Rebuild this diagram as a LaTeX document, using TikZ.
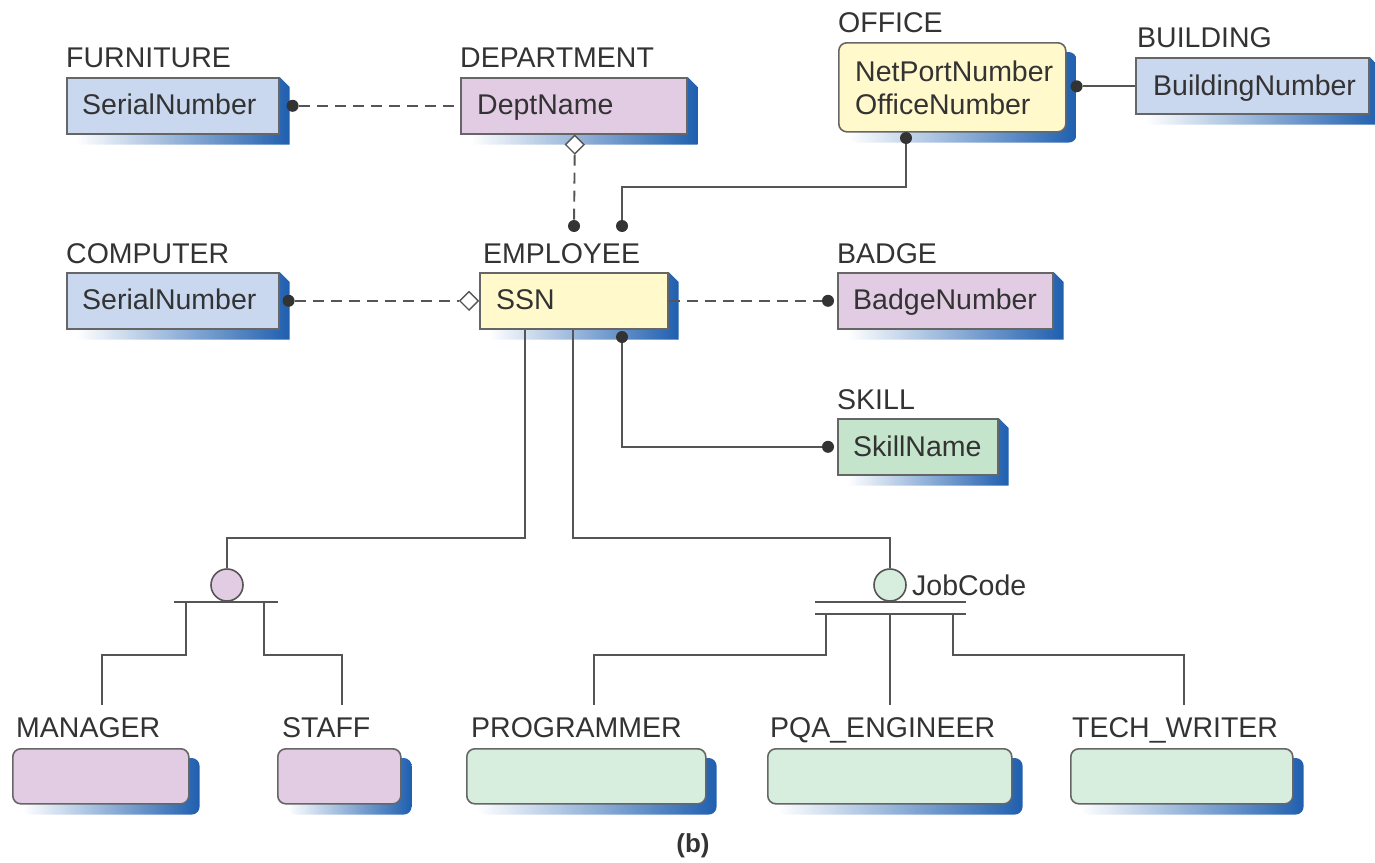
\documentclass[tikz,border=0pt]{standalone}
\usepackage{fontspec}
\setmainfont{Liberation Sans}
\usetikzlibrary{shapes.geometric,calc}
\pgfdeclarelayer{bg}\pgfsetlayers{bg,main}
\definecolor{bluef}{HTML}{C9D7EF}
\definecolor{pinkf}{HTML}{E2CCE3}
\definecolor{yellowf}{HTML}{FFF9CC}
\definecolor{skillf}{HTML}{C4E5CC}
\definecolor{greenf}{HTML}{D7EDDE}
\definecolor{shblue}{HTML}{1F5FAF}
\definecolor{boxline}{HTML}{666666}
\definecolor{linec}{HTML}{555555}
\definecolor{txtc}{HTML}{333333}
\definecolor{dotc}{HTML}{333333}
\tikzset{
  ent/.style={draw=boxline, line width=1.6pt, anchor=north west, inner sep=0pt},
  rent/.style={ent, rounded corners=8pt},
  txt/.style={anchor=base west, inner sep=0pt, text=txtc, font=\fontsize{28.5}{32}\selectfont},
  dot/.style={circle, fill=dotc, inner sep=0pt, minimum size=12pt},
  dia/.style={diamond, draw=linec, fill=white, line width=1.4pt, inner sep=0pt, minimum width=19pt, minimum height=19pt},
  conn/.style={draw=linec, line width=1.9pt},
  dconn/.style={conn, dash pattern=on 11pt off 7pt},
  subc/.style={circle, draw=linec, line width=1.6pt, inner sep=0pt, minimum size=32pt}
}
\newcommand\shrect[1]{%
  \shade[left color=white, middle color=shblue!60, right color=shblue]
    ($(#1.south west)+(10,10)$) -- ($(#1.south east)+(10,10)$) --
    ($(#1.north east)+(10,10)$) -- (#1.north east) -- ($(#1.north west)+(10,0)$) -- cycle;}
\newcommand\shround[1]{%
  \shade[left color=white, middle color=shblue!60, right color=shblue, rounded corners=8pt]
    ($(#1.south west)+(10,10)$) rectangle ($(#1.north east)+(10,10)$);}
\begin{document}
\begin{tikzpicture}[x=1pt,y=-1pt]
\useasboundingbox (0,0) rectangle (1375,862);
% ---------- entity boxes ----------
\node[ent, fill=bluef, minimum width=212pt, minimum height=56pt] (furn) at (66,77) {};
\node[ent, fill=pinkf, minimum width=226pt, minimum height=56pt] (dept) at (460,77) {};
\node[rent, fill=yellowf, minimum width=227pt, minimum height=89pt] (office) at (838,42) {};
\node[ent, fill=bluef, minimum width=233pt, minimum height=56pt] (bldg) at (1135,57) {};
\node[ent, fill=bluef, minimum width=212pt, minimum height=56pt] (comp) at (66,272) {};
\node[ent, fill=yellowf, minimum width=188pt, minimum height=56pt] (emp) at (479,272) {};
\node[ent, fill=pinkf, minimum width=215pt, minimum height=56pt] (badge) at (837,272) {};
\node[ent, fill=skillf, minimum width=160pt, minimum height=56pt] (skill) at (837,418) {};
\node[rent, fill=pinkf, minimum width=176pt, minimum height=55pt] (mgr) at (12,748) {};
\node[rent, fill=pinkf, minimum width=123pt, minimum height=55pt] (staff) at (277,748) {};
\node[rent, fill=greenf, minimum width=239pt, minimum height=55pt] (prog) at (466,748) {};
\node[rent, fill=greenf, minimum width=244pt, minimum height=55pt] (pqa) at (767,748) {};
\node[rent, fill=greenf, minimum width=222pt, minimum height=55pt] (tech) at (1070,748) {};
\begin{pgfonlayer}{bg}
  \shrect{furn}\shrect{dept}\shround{office}\shrect{bldg}
  \shrect{comp}\shrect{emp}\shrect{badge}\shrect{skill}
  \shround{mgr}\shround{staff}\shround{prog}\shround{pqa}\shround{tech}
\end{pgfonlayer}
% ---------- labels and attributes ----------
\node[txt] (furnL) at (66,67) {FURNITURE};
\node[txt] (furnA) at (82,114) {SerialNumber};
\node[txt] (deptL) at (460,67) {DEPARTMENT};
\node[txt] (deptA) at (477,114) {DeptName};
\node[txt] (officeL) at (838,32) {OFFICE};
\node[txt] (officeA) at (855,81) {NetPortNumber};
\node[txt] (officeB) at (855,114) {OfficeNumber};
\node[txt] (bldgL) at (1137,47) {BUILDING};
\node[txt] (bldgA) at (1153,95) {BuildingNumber};
\node[txt] (compL) at (66,263) {COMPUTER};
\node[txt] (compA) at (82,309) {SerialNumber};
\node[txt] (empL) at (483,263) {EMPLOYEE};
\node[txt] (empA) at (496,309) {SSN};
\node[txt] (badgeL) at (837,263) {BADGE};
\node[txt] (badgeA) at (853,309) {BadgeNumber};
\node[txt] (skillL) at (837,409) {SKILL};
\node[txt] (skillA) at (853,456) {SkillName};
\node[txt] (mgrL) at (16,737) {MANAGER};
\node[txt] (staffL) at (282,737) {STAFF};
\node[txt] (progL) at (471,737) {PROGRAMMER};
\node[txt] (pqaL) at (770,737) {PQA\_ENGINEER};
\node[txt] (techL) at (1072,737) {TECH\_WRITER};
\node[anchor=base, inner sep=0pt, text=txtc, font=\fontsize{26}{30}\selectfont\bfseries] (cap) at (693,852) {(b)};
% ---------- relationships ----------
\node[dot] (dFurn) at ($(furn.east)+(13,0)$) {};
\draw[dconn] (dFurn) -- (dept.west);
\node[dot] (dEmpD) at (574,226) {};
\node[dia] (diaDept) at ($(dept.south)+(1,10)$) {};
\draw[dconn] (diaDept) -- (dEmpD);
\node[dot] (dOffB) at (906,138) {};
\node[dot] (dEmpO) at (622,226) {};
\coordinate (cOff) at (622,187);
\draw[conn] (dOffB) |- (cOff) -- (dEmpO);
\node[dot] (dOffR) at ($(office.east)+(10,-1)$) {};
\draw[conn] (dOffR) -- (dOffR -| bldg.west);
\node[dot] (dComp) at ($(comp.east)+(9,0)$) {};
\node[dia] (diaEmp) at ($(emp.west)+(-10,0)$) {};
\draw[dconn] (dComp) -- (diaEmp);
\node[dot] (dBadge) at ($(badge.west)+(-9,0)$) {};
\draw[dconn] (emp.east) -- (dBadge);
\node[dot] (dEmpS) at (622,337) {};
\node[dot] (dSkill) at ($(skill.west)+(-9,0)$) {};
\draw[conn] (dEmpS) |- (dSkill);
% ---------- subtype cluster 1 ----------
\node[subc, fill=pinkf] (sub1) at (227,585) {};
\coordinate (k1) at (525,538);
\draw[conn] ($(emp.south west)+(46,0)$) -- (k1) -| (sub1.north);
\coordinate (b1L) at (174,602);
\coordinate (b1R) at (278,602);
\draw[conn] (b1L) -- (b1R);
\coordinate (b1a) at (186,602);
\coordinate (b1b) at (264,602);
\coordinate (mgrT) at (102,705);
\coordinate (staffT) at (342,705);
\draw[conn] (b1a) |- (102,655) -- (mgrT);
\draw[conn] (b1b) |- (342,655) -- (staffT);
% ---------- subtype cluster 2 ----------
\node[subc, fill=greenf] (sub2) at (890,585) {};
\node[txt] (jobc) at (912,595) {JobCode};
\coordinate (k2) at (573,538);
\draw[conn] ($(emp.south west)+(94,0)$) -- (k2) -| (sub2.north);
\coordinate (b2L) at (815,602);
\coordinate (b2R) at (966,602);
\coordinate (b3L) at (815,614);
\coordinate (b3R) at (966,614);
\draw[conn] (b2L) -- (b2R);
\draw[conn] (b3L) -- (b3R);
\coordinate (b2a) at (826,614);
\coordinate (b2b) at (890,614);
\coordinate (b2c) at (953,614);
\coordinate (progT) at (594,705);
\coordinate (pqaT) at (890,705);
\coordinate (techT) at (1184,705);
\draw[conn] (b2a) |- (594,655) -- (progT);
\draw[conn] (b2b) -- (pqaT);
\draw[conn] (b2c) |- (1184,655) -- (techT);
\end{tikzpicture}
\end{document}
